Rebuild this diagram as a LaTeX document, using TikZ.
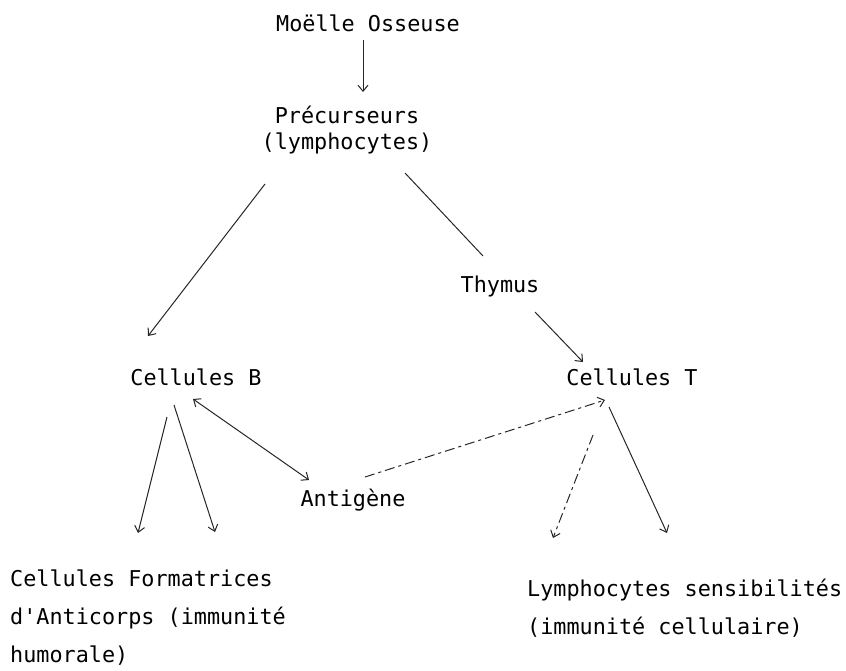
\documentclass[tikz,border=0pt]{standalone}
\usepackage{fontspec}
\usepackage{tikz}
\usetikzlibrary{arrows.meta,calc}
\newfontfamily\typer{DejaVu Sans Mono}

\begin{document}
\begin{tikzpicture}[
  x=1pt, y=-1pt,
  font=\typer\fontsize{21.8}{26}\selectfont,
  lbl/.style ={inner sep=0pt, anchor=base, align=center},
  lblw/.style={inner sep=0pt, anchor=base west, align=left,
               font=\typer\fontsize{21.8}{38}\selectfont},
  tip/.tip   ={Straight Barb[length=6pt,width=10pt]},
  ar/.style  ={-tip, line width=1pt, black!85},
  ard/.style ={ar, dash pattern=on 10pt off 4pt on 3pt off 4pt},
  ln/.style  ={line width=1pt, black!85}
]
\useasboundingbox (0,0) rectangle (846,670);

% =============== upper chain ===============
% base of a multi-line node is the baseline of its last line
\node[lbl] (mo)  at (368,31)  {Moëlle Osseuse};
\node[lbl] (pre) at (347,149) {Précurseurs\\(lymphocytes)};
\node[lbl] (thy) at (500,292) {Thymus};

% =============== cells and antigen ===============
\node[lbl] (cb)  at (196,385) {Cellules B};
\node[lbl] (ct)  at (632,385) {Cellules T};
\node[lbl] (ant) at (353,506) {Antigène};

% =============== outcomes ===============
\node[lblw] (cfa) at (10,662)  {Cellules Formatrices\\d'Anticorps (immunité\\humorale)};
\node[lblw] (lys) at (527,634) {Lymphocytes sensibilités\\(immunité cellulaire)};

% offsets from each baseline, so every line meets its text where the scan shows it
\draw[ar] ($(mo.base)+(-5,9)$)    -- ($(pre.base)+(16,-57)$);
\draw[ar] ($(pre.base)+(-82,35)$) -- ($(cb.base)+(-48,-49)$);
\draw[ln] ($(pre.base)+(58,24)$)  -- ($(thy.base)+(-17,-36)$);
\draw[ar] ($(thy.base)+(35,20)$)  -- ($(ct.base)+(-49,-23)$);

\draw[ar, tip-tip] ($(cb.base)+(-3,14)$) -- ($(ant.base)+(-44,-26)$);
\draw[ard] ($(ant.base)+(12,-29)$) -- ($(ct.base)+(-27,15)$);

\draw[ar]  ($(cb.base)+(-29,32)$) -- ($(cfa.base west)+(128,-129)$);
\draw[ar]  ($(cb.base)+(-22,20)$) -- ($(cfa.base west)+(205,-130)$);
\draw[ard] ($(ct.base)+(-39,50)$) -- ($(lys.base west)+(26,-96)$);
\draw[ar]  ($(ct.base)+(-23,22)$) -- ($(lys.base west)+(140,-101)$);
\end{tikzpicture}
\end{document}
